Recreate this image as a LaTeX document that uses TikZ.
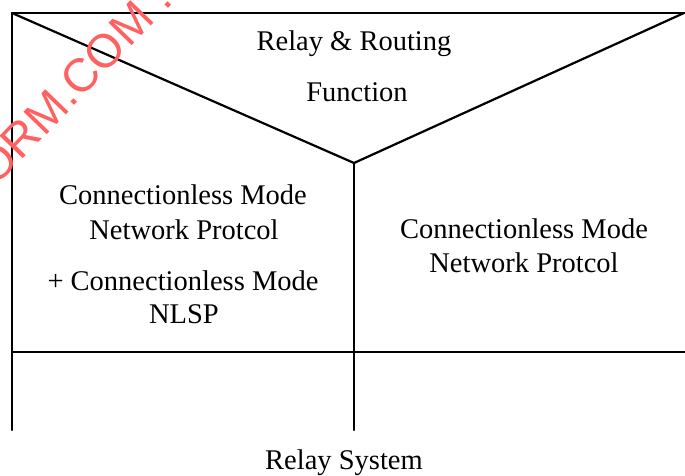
\documentclass[tikz,border=0pt]{standalone}
\usepackage{fontspec}
\setmainfont{Liberation Serif}
\newfontfamily\wmfont{Liberation Sans}
\begin{document}
\begin{tikzpicture}[x=1pt,y=-1pt,
  frame/.style={line width=2.2pt,line cap=round,line join=round},
  lbl/.style={anchor=base,inner sep=0pt,font=\fontsize{28.5}{30}\selectfont},
  wm/.style={anchor=base west,inner sep=0pt,rotate=46,text=red!62,font=\wmfont\fontsize{47}{49}\selectfont}]
\useasboundingbox (0,0) rectangle (685,476);
\clip (0,0) rectangle (685,476);
% corners and junctions
\coordinate (tl) at (12,13);
\coordinate (tr) at (684,13);
\coordinate (tre) at (687,13);
\coordinate (v) at (354,163);
\coordinate (bl) at (12,430);
\coordinate (bm) at (354,430);
\coordinate (hl) at (12,352);
\coordinate (hr) at (687,352);
% frame
\draw[frame] (tre) -- (tl) -- (bl);
\draw[frame] (tl) -- (v) -- (tr);
\draw[frame] (v) -- (bm);
\draw[frame] (hl) -- (hr);
% texts
\node[lbl] (rr) at (354,51) {Relay \& Routing};
\node[lbl] (fn) at (357,102) {Function};
\node[lbl] (l1) at (183,204) {Connectionless Mode};
\node[lbl] (l2) at (184,239) {Network Protcol};
\node[lbl] (l3) at (183,290) {+ Connectionless Mode};
\node[lbl] (l4) at (184,323) {NLSP};
\node[lbl] (r1) at (524,238) {Connectionless Mode};
\node[lbl] (r2) at (524,272) {Network Protcol};
\node[lbl] (rs) at (344,469) {Relay System};
% watermark
\node[wm] (wmk) at (-5,188) {ORM.COM .};
\end{tikzpicture}
\end{document}
